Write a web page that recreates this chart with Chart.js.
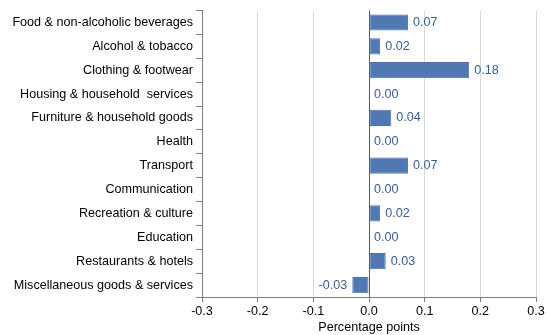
<!DOCTYPE html>
<html>
<head>
<meta charset="utf-8">
<script src="https://cdn.jsdelivr.net/npm/chart.js@4/dist/chart.umd.min.js"></script>
<style>
  html, body { margin: 0; padding: 0; background: #fff; }
  #wrap { width: 550px; height: 335px; }
</style>
</head>
<body>
<div id="wrap"><canvas id="myChart"></canvas></div>
<script>
const categorias = [
  "Food & non-alcoholic beverages",
  "Alcohol & tobacco",
  "Clothing & footwear",
  "Housing & household  services",
  "Furniture & household goods",
  "Health",
  "Transport",
  "Communication",
  "Recreation & culture",
  "Education",
  "Restaurants & hotels",
  "Miscellaneous goods & services"
];
const contribuciones = [0.07, 0.02, 0.18, 0.00, 0.04, 0.00, 0.07, 0.00, 0.02, 0.00, 0.03, -0.03];
const ticksX = [-0.3, -0.2, -0.1, 0.0, 0.1, 0.2, 0.3];

// etiquetas de valor al final de cada barra
const etiquetas = {
  id: "etiquetas",
  afterDatasetsDraw(chart) {
    const ctx = chart.ctx;
    const meta = chart.getDatasetMeta(0);
    const x0 = chart.scales.x.getPixelForValue(0);
    ctx.save();
    ctx.font = "12.6px 'Liberation Sans', Arial, sans-serif";
    ctx.fillStyle = "#3a5d92";
    ctx.textBaseline = "middle";
    meta.data.forEach((bar, i) => {
      const v = contribuciones[i];
      const txt = v.toFixed(2);
      if (v < 0) {
        ctx.textAlign = "right";
        ctx.fillText(txt, bar.x - 5, bar.y);
      } else {
        ctx.textAlign = "left";
        ctx.fillText(txt, Math.max(bar.x, x0) + 5, bar.y);
      }
    });
    ctx.restore();
  }
};

Chart.defaults.font.family = "'Liberation Sans', Arial, sans-serif";
Chart.defaults.font.size = 12.6;
Chart.defaults.color = "#000";

new Chart(document.getElementById("myChart"), {
  type: "bar",
  data: {
    labels: categorias,
    datasets: [{
      data: contribuciones,
      backgroundColor: "#5079b3",
      borderColor: "#4a72ab",
      borderWidth: 1,
      borderSkipped: false,
      barPercentage: 0.68,
      categoryPercentage: 1
    }]
  },
  options: {
    indexAxis: "y",
    responsive: true,
    maintainAspectRatio: false,
    animation: false,
    layout: { padding: { top: 8, right: 14, left: 0, bottom: 0 } },
    plugins: { legend: { display: false }, tooltip: { enabled: false } },
    scales: {
      x: {
        min: -0.3,
        max: 0.3,
        afterBuildTicks: s => { s.ticks = ticksX.map(v => ({ value: v })); },
        afterFit: s => { s.height = 38; },
        ticks: {
          padding: 2,
          callback: v => v.toFixed(1)
        },
        grid: {
          color: ctx => (ctx.tick && Math.abs(ctx.tick.value) < 1e-9) ? "#595959" : "#d9d9d9",
          tickColor: "#808080",
          tickLength: 5,
          drawTicks: true
        },
        border: { color: "#808080" },
        title: {
          display: true,
          text: "Percentage points",
          padding: { top: 0, bottom: 0 }
        }
      },
      y: {
        afterFit: s => { s.width = 202; },
        ticks: { padding: 3, autoSkip: false },
        grid: {
          offset: true,
          drawOnChartArea: false,
          tickColor: "#808080",
          tickLength: 6
        },
        border: { color: "#808080" }
      }
    }
  },
  plugins: [etiquetas]
});
</script>
</body>
</html>
